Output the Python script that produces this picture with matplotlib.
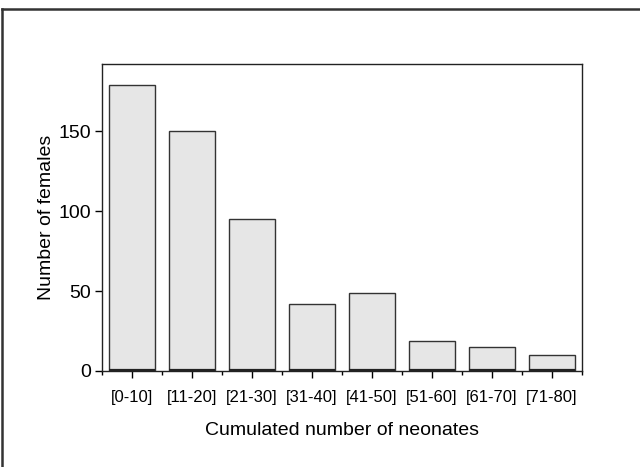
"""
Histogram: number of females per class of cumulated neonates.
"""

import matplotlib
matplotlib.use("Agg")
import matplotlib.pyplot as plt
from matplotlib.lines import Line2D
import numpy as np

# data
kelas = ["[0-10]", "[11-20]", "[21-30]", "[31-40]",
         "[41-50]", "[51-60]", "[61-70]", "[71-80]"]
jumlah_betina = [179, 150, 95, 42, 49, 19, 15, 10]
y_ticks = [0, 50, 100, 150]

plt.rcParams['font.family'] = ['Liberation Sans', 'DejaVu Sans']

fig = plt.figure(figsize=(6.4, 4.67), dpi=100)
ax = fig.add_axes([0.159, 0.2056, 0.75, 0.657])

x = np.arange(len(kelas))
ax.bar(x, jumlah_betina, width=0.76, color="#e6e6e6",
       edgecolor="#333333", linewidth=1.0, zorder=2)
# garis bawah batang yang gelap
ax.hlines(np.full(len(x), 0.4), x - 0.38, x + 0.38, color="#222222",
          linewidth=1.6, zorder=3)

ax.set_xlim(-0.5, len(kelas) - 0.5)
ax.set_ylim(0, 192)

ax.set_yticks(y_ticks)
ax.tick_params(axis="y", direction="out", length=5, width=1.0,
               pad=3, labelsize=14)
ax.set_xticks(x)
ax.set_xticklabels(kelas, fontsize=12)
ax.set_xticks(np.arange(len(kelas) + 1) - 0.5, minor=True)
ax.tick_params(axis="x", which="major", direction="out", length=5,
               width=1.0, pad=9)
ax.tick_params(axis="x", which="minor", direction="out", length=3, width=1.0)

for s in ax.spines.values():
    s.set_linewidth(1.0)
    s.set_color("#222222")

ax.set_ylabel("Number of females", fontsize=14, labelpad=2)
ax.set_xlabel("Cumulated number of neonates", fontsize=14, labelpad=12)

# bingkai luar (hanya kiri dan atas terlihat)
fig.add_artist(Line2D([2 / 640, 2 / 640], [0, 1 - 9 / 467],
                      transform=fig.transFigure, color="#333333", linewidth=1.8))
fig.add_artist(Line2D([2 / 640, 1], [1 - 9 / 467, 1 - 9 / 467],
                      transform=fig.transFigure, color="#333333", linewidth=1.8))

plt.savefig("out.png", dpi=100)
plt.close()
